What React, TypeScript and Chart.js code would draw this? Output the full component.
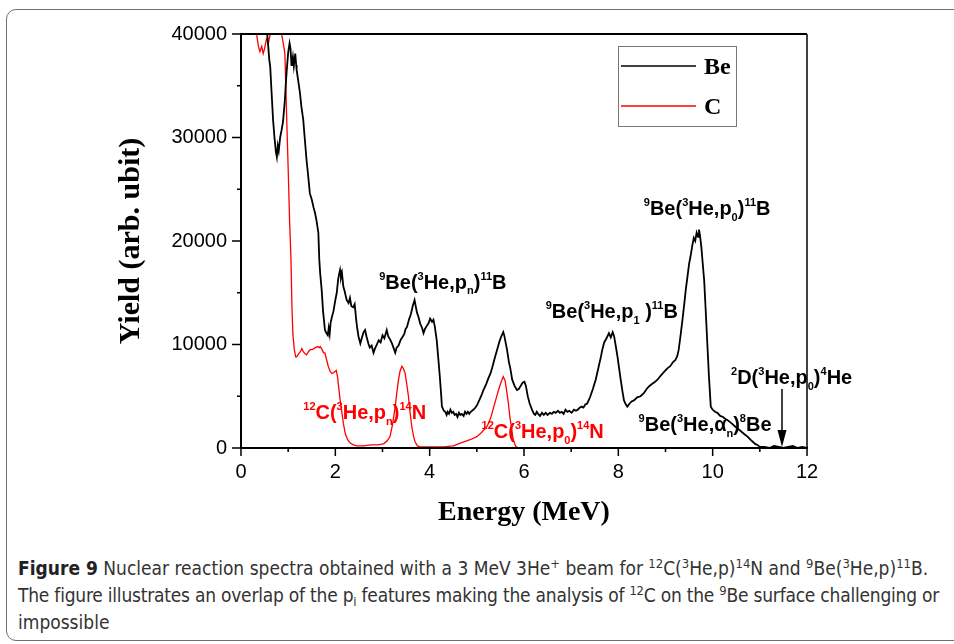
import React, { useEffect, useRef } from "react";
import { Chart, registerables } from "chart.js";
Chart.register(...registerables);

// ---------- data ----------
const seriesLabels = ["Be", "C"];

const beEnergy = [
  0.5, 0.56, 0.6, 0.62, 0.65, 0.68, 0.71, 0.74, 0.76, 0.78, 0.8, 0.83, 0.86, 0.89, 0.93, 0.95, 0.97, 1.0, 1.03, 1.05,
  1.07, 1.08, 1.1, 1.12, 1.15, 1.17, 1.18, 1.21, 1.25, 1.28, 1.32, 1.35, 1.39, 1.42, 1.46, 1.5, 1.54, 1.57, 1.6, 1.64,
  1.66, 1.68, 1.71, 1.74, 1.78, 1.81, 1.84, 1.86, 1.88, 1.9, 1.93, 1.96, 2.0, 2.03, 2.06, 2.08, 2.1, 2.12, 2.14, 2.17,
  2.2, 2.24, 2.28, 2.31, 2.34, 2.38, 2.41, 2.44, 2.46, 2.49, 2.53, 2.56, 2.6, 2.63, 2.66, 2.7, 2.73, 2.77, 2.81, 2.84,
  2.88, 2.92, 2.96, 3.0, 3.04, 3.09, 3.12, 3.16, 3.2, 3.24, 3.27, 3.3, 3.34, 3.38, 3.42, 3.46, 3.49, 3.52, 3.56, 3.6,
  3.64, 3.68, 3.7, 3.73, 3.76, 3.8, 3.84, 3.87, 3.9, 3.94, 3.98, 4.01, 4.05, 4.08, 4.11, 4.15, 4.18, 4.21, 4.24, 4.26,
  4.3, 4.33, 4.36, 4.38, 4.41, 4.44, 4.47, 4.5, 4.53, 4.56, 4.59, 4.62, 4.65, 4.68, 4.72, 4.75, 4.78, 4.81, 4.84, 4.87,
  4.9, 4.95, 5.0, 5.05, 5.1, 5.14, 5.2, 5.25, 5.29, 5.34, 5.38, 5.43, 5.48, 5.52, 5.56, 5.58, 5.61, 5.64, 5.68, 5.71,
  5.75, 5.8, 5.85, 5.89, 5.93, 5.97, 6.01, 6.04, 6.08, 6.12, 6.17, 6.21, 6.24, 6.27, 6.3, 6.34, 6.38, 6.42, 6.46, 6.5,
  6.55, 6.59, 6.63, 6.67, 6.72, 6.76, 6.8, 6.84, 6.88, 6.92, 6.96, 7.01, 7.06, 7.1, 7.14, 7.18, 7.22, 7.26, 7.3, 7.34,
  7.4, 7.46, 7.52, 7.58, 7.63, 7.66, 7.7, 7.75, 7.8, 7.84, 7.88, 7.91, 7.94, 7.98, 8.01, 8.05, 8.09, 8.12, 8.16, 8.19,
  8.24, 8.28, 8.33, 8.4, 8.47, 8.54, 8.6, 8.66, 8.72, 8.78, 8.83, 8.9, 8.96, 9.04, 9.1, 9.16, 9.21, 9.25, 9.28, 9.32,
  9.36, 9.4, 9.43, 9.47, 9.5, 9.53, 9.57, 9.6, 9.63, 9.66, 9.69, 9.71, 9.73, 9.76, 9.79, 9.82, 9.85, 9.89, 9.92, 9.96,
  10.0, 10.05, 10.1, 10.16, 10.22, 10.27, 10.31, 10.37, 10.42, 10.47, 10.52, 10.58, 10.63, 10.68, 10.74, 10.8, 10.85, 10.9, 10.95, 11.0,
  11.1, 11.2, 11.3, 11.4, 11.5, 11.6, 11.7, 11.8, 11.9, 12.0,
];
const beYield = [
  41000, 39800, 37500, 36800, 34200, 31700, 30000, 28600, 28100, 29200, 28700, 30000, 30700, 31500, 33600, 35200, 36500, 38200, 39100, 38600,
  37000, 37200, 37800, 36900, 38100, 37000, 36500, 35600, 34300, 33000, 31700, 30000, 27800, 26500, 24600, 24000, 23200, 22700, 22000, 20800,
  18200, 16800, 15300, 13200, 11400, 11100, 10900, 11600, 11000, 12100, 12700, 13200, 14300, 15000, 16300, 16800, 17200, 16500, 16900, 15600,
  15100, 14300, 14000, 14500, 13700, 13600, 13900, 12500, 11700, 10800, 10100, 10600, 11200, 11400, 10800, 10100, 9700, 9900, 9200, 9600,
  10000, 10400, 10200, 10900, 10600, 11400, 10800, 10500, 10100, 9600, 9200, 9700, 9900, 10400, 10700, 11000, 11500, 11700, 12400, 12900,
  13700, 14300, 13800, 13100, 12700, 12000, 11600, 11100, 11500, 11800, 12100, 12500, 12200, 12400, 11700, 10400, 8800, 7200, 5400, 4000,
  3600, 3500, 3200, 3500, 3300, 3700, 3400, 3500, 3200, 3300, 3000, 3400, 3200, 3300, 3100, 3500, 3300, 3500, 3300, 3500,
  3600, 3800, 4100, 4600, 5100, 5600, 6200, 6800, 7200, 8000, 8700, 9500, 10300, 10800, 11200, 10900, 10200, 9500, 8300, 7700,
  6600, 6000, 5600, 5700, 6000, 6300, 6400, 6000, 5000, 4300, 3700, 3300, 3200, 3500, 3300, 3100, 3400, 3200, 3400, 3200,
  3400, 3300, 3500, 3400, 3600, 3400, 3500, 3300, 3700, 3500, 3600, 3400, 3700, 3600, 3700, 3900, 4000, 3900, 4200, 4300,
  4900, 5700, 6600, 7800, 8800, 9500, 10200, 10600, 11100, 10700, 11200, 10800, 10000, 8900, 7900, 6600, 5400, 4600, 4200, 4000,
  4300, 4500, 4600, 4900, 5000, 5300, 5700, 6000, 6200, 6400, 6600, 7000, 7300, 7700, 7900, 8300, 8500, 8900, 9500, 10900,
  12400, 14000, 15300, 16700, 17800, 18500, 19600, 20300, 20000, 20800, 20400, 21100, 20600, 19400, 17800, 16200, 13500, 9800, 7000, 4000,
  3700, 3500, 3400, 3100, 3000, 2800, 2700, 2500, 2300, 2100, 1900, 1700, 1500, 1300, 1100, 800, 600, 400, 300, 100,
  100, 0, 200, 100, 0, 100, 200, 0, 100, 0,
];

const cEnergy = [
  0.3, 0.33, 0.37, 0.4, 0.44, 0.47, 0.5, 0.54, 0.58, 0.62, 0.65, 0.8, 0.86, 0.9, 0.93, 0.95, 0.97, 1.0, 1.03, 1.06,
  1.08, 1.1, 1.13, 1.16, 1.18, 1.22, 1.26, 1.29, 1.32, 1.36, 1.39, 1.43, 1.47, 1.51, 1.54, 1.58, 1.62, 1.66, 1.68, 1.72,
  1.75, 1.78, 1.81, 1.85, 1.89, 1.93, 1.97, 2.02, 2.05, 2.07, 2.1, 2.14, 2.17, 2.21, 2.26, 2.31, 2.38, 2.46, 2.6, 2.75,
  2.9, 3.02, 3.1, 3.16, 3.21, 3.27, 3.3, 3.34, 3.37, 3.41, 3.44, 3.48, 3.51, 3.55, 3.58, 3.62, 3.66, 3.69, 3.74, 3.8,
  4.0, 4.3, 4.5, 4.72, 4.86, 5.0, 5.1, 5.22, 5.3, 5.36, 5.41, 5.46, 5.51, 5.56, 5.6, 5.63, 5.67, 5.7, 5.74, 5.77,
  5.82, 5.87, 6.5, 8.0, 10.0, 12.0,
];
const cYield = [
  41000, 40000, 38800, 38300, 38800, 38100, 38600, 39500, 39100, 40000, 41000, 41000, 40000, 39000, 38100, 35000, 31700, 27000, 22000, 18200,
  13600, 11000, 9500, 8800, 8800, 9100, 9300, 9600, 9300, 9100, 9000, 9300, 9500, 9500, 9600, 9700, 9800, 9700, 9800, 9500,
  9200, 9200, 8600, 7900, 7400, 7200, 7300, 7500, 6800, 5900, 4700, 3400, 2400, 1400, 800, 500, 300, 200, 200, 300,
  300, 400, 700, 1100, 2200, 4000, 5200, 6600, 7400, 7900, 7700, 7200, 6300, 5000, 3600, 2100, 1100, 600, 200, 100,
  100, 100, 200, 600, 800, 1100, 1500, 2100, 3000, 4000, 4800, 5600, 6300, 6900, 6500, 5600, 4300, 3000, 1800, 800,
  200, 0, 0, 0, 0, 0,
];

const xTickValues = [0, 2, 4, 6, 8, 10, 12];
const yTickValues = [0, 10000, 20000, 30000, 40000];
const xTitle = "Energy (MeV)";
const yTitle = "Yield (arb. ubit)";

type Part = [string, ("sup" | "sub")?];
// annotation anchors in data coordinates (energy, yield) – left/baseline of text
const annotations: { e: number; y: number; color: string; parts: Part[] }[] = [
  { e: 2.93, y: 15400, color: "#000", parts: [["9", "sup"], ["Be("], ["3", "sup"], ["He,p"], ["n", "sub"], [")"], ["11", "sup"], ["B"]] },
  { e: 8.54, y: 22500, color: "#000", parts: [["9", "sup"], ["Be("], ["3", "sup"], ["He,p"], ["0", "sub"], [")"], ["11", "sup"], ["B"]] },
  { e: 6.46, y: 12550, color: "#000", parts: [["9", "sup"], ["Be("], ["3", "sup"], ["He,p"], ["1", "sub"], [" )"], ["11", "sup"], ["B"]] },
  { e: 10.39, y: 6150, color: "#000", parts: [["2", "sup"], ["D("], ["3", "sup"], ["He,p"], ["0", "sub"], [")"], ["4", "sup"], ["He"]] },
  { e: 8.43, y: 1650, color: "#000", parts: [["9", "sup"], ["Be("], ["3", "sup"], ["He,α"], ["n", "sub"], [")"], ["8", "sup"], ["Be"]] },
  { e: 1.32, y: 2800, color: "#ff0000", parts: [["12", "sup"], ["C("], ["3", "sup"], ["He,p"], ["n", "sub"], [")"], ["14", "sup"], ["N"]] },
  { e: 5.1, y: 970, color: "#ff0000", parts: [["12", "sup"], ["C("], ["3", "sup"], ["He,p"], ["0", "sub"], [")"], ["14", "sup"], ["N"]] },
];
const arrowE = 11.47;
const arrowFrom = 5700;
const arrowTo = 0;

const SANS = '"Liberation Sans", Arial, sans-serif';
const SERIF = '"Liberation Serif", "Times New Roman", serif';

function drawRich(ctx: CanvasRenderingContext2D, parts: Part[], x: number, y: number, size: number, color: string) {
  let cx = x;
  ctx.fillStyle = color;
  ctx.textAlign = "left";
  ctx.textBaseline = "alphabetic";
  for (const [t, k] of parts) {
    const fs = k ? Math.round(size * 0.55) : size;
    ctx.font = `bold ${fs}px ${SANS}`;
    const dy = k === "sup" ? -size * 0.45 : k === "sub" ? size * 0.28 : 0;
    ctx.fillText(t, cx, y + dy);
    cx += ctx.measureText(t).width;
  }
}

const decorPlugin = {
  id: "decor",
  afterDraw(chart: any) {
    const { ctx, chartArea: a, scales } = chart;
    const xs = scales.x;
    const ys = scales.y;
    ctx.save();
    // frame
    ctx.strokeStyle = "#000";
    ctx.lineWidth = 2;
    ctx.beginPath();
    ctx.moveTo(a.left, a.top);
    ctx.lineTo(a.right, a.top);
    ctx.moveTo(a.left, a.top - 1);
    ctx.lineTo(a.left, a.bottom + 1);
    ctx.moveTo(a.left - 1, a.bottom);
    ctx.lineTo(a.right + 1, a.bottom);
    ctx.stroke();
    ctx.lineWidth = 1.5;
    ctx.beginPath();
    ctx.moveTo(a.right, a.top);
    ctx.lineTo(a.right, a.bottom);
    ctx.stroke();
    // ticks
    ctx.lineWidth = 1.5;
    ctx.beginPath();
    for (let v = 0; v <= 12; v += 1) {
      const px = xs.getPixelForValue(v);
      const len = v % 2 === 0 ? 8 : 4;
      ctx.moveTo(px, a.bottom);
      ctx.lineTo(px, a.bottom + len);
    }
    for (let v = 0; v <= 40000; v += 5000) {
      const py = ys.getPixelForValue(v);
      const len = v % 10000 === 0 ? 9 : 4;
      ctx.moveTo(a.left, py);
      ctx.lineTo(a.left - len, py);
    }
    ctx.stroke();

    // axis titles
    ctx.fillStyle = "#000";
    ctx.textAlign = "center";
    ctx.textBaseline = "middle";
    ctx.font = `bold 28px ${SERIF}`;
    ctx.fillText(xTitle, (a.left + a.right) / 2, a.bottom + 65);
    ctx.save();
    ctx.translate(a.left - 110, (a.top + a.bottom) / 2);
    ctx.rotate(-Math.PI / 2);
    ctx.font = `bold 30px ${SERIF}`;
    ctx.fillText(yTitle, 0, 0);
    ctx.restore();

    // annotations
    for (const an of annotations) {
      drawRich(ctx, an.parts, xs.getPixelForValue(an.e), ys.getPixelForValue(an.y), 20, an.color);
    }
    // arrow
    const ax = xs.getPixelForValue(arrowE);
    const ay1 = ys.getPixelForValue(arrowFrom);
    const ay2 = ys.getPixelForValue(arrowTo) - 1;
    ctx.strokeStyle = "#000";
    ctx.lineWidth = 1.5;
    ctx.beginPath();
    ctx.moveTo(ax, ay1);
    ctx.lineTo(ax, ay2 - 12);
    ctx.stroke();
    ctx.fillStyle = "#000";
    ctx.beginPath();
    ctx.moveTo(ax - 4.5, ay2 - 17);
    ctx.lineTo(ax + 4.5, ay2 - 17);
    ctx.lineTo(ax, ay2);
    ctx.closePath();
    ctx.fill();

    // legend
    const lx = a.left + 377;
    const ly = a.top + 12;
    ctx.fillStyle = "#fff";
    ctx.fillRect(lx, ly, 118, 80);
    ctx.strokeStyle = "#777";
    ctx.lineWidth = 1;
    ctx.strokeRect(lx + 0.5, ly + 0.5, 118, 80);
    chart.data.datasets.forEach((ds: any, i: number) => {
      const yy = ly + 20 + i * 40;
      ctx.strokeStyle = ds.borderColor;
      ctx.lineWidth = 1.3;
      ctx.beginPath();
      ctx.moveTo(lx + 3, yy);
      ctx.lineTo(lx + 78, yy);
      ctx.stroke();
      ctx.fillStyle = "#000";
      ctx.font = `bold 24px ${SERIF}`;
      ctx.textAlign = "left";
      ctx.textBaseline = "middle";
      ctx.fillText(ds.label, lx + 86, yy + 2);
    });
    ctx.restore();
  },
};

function ChartView() {
  const ref = useRef<HTMLCanvasElement | null>(null);
  useEffect(() => {
    if (!ref.current) return;
    const chart = new Chart(ref.current, {
      type: "line",
      data: {
        datasets: [
          {
            label: seriesLabels[0],
            data: beEnergy.map((e, i) => ({ x: e, y: beYield[i] })),
            borderColor: "#000000",
            borderWidth: 1.8,
            pointRadius: 0,
            tension: 0,
          },
          {
            label: seriesLabels[1],
            data: cEnergy.map((e, i) => ({ x: e, y: cYield[i] })),
            borderColor: "#ff0000",
            borderWidth: 1.3,
            pointRadius: 0,
            tension: 0,
          },
        ],
      },
      options: {
        animation: false,
        responsive: false,
        devicePixelRatio: 1,
        layout: { padding: { left: 0, top: 34, right: 147, bottom: 0 } },
        plugins: { legend: { display: false }, tooltip: { enabled: false }, title: { display: false } },
        scales: {
          x: {
            type: "linear",
            min: 0,
            max: 12,
            grid: { display: false },
            border: { display: false },
            afterFit: (s: any) => {
              s.height = 92;
            },
            afterBuildTicks: (s: any) => {
              s.ticks = xTickValues.map((v) => ({ value: v }));
            },
            ticks: {
              autoSkip: false,
              maxRotation: 0,
              padding: 4,
              color: "#000",
              font: { family: SANS, size: 20 },
              callback: (v: any) => String(v),
            },
          },
          y: {
            type: "linear",
            min: 0,
            max: 40000,
            grid: { display: false },
            border: { display: false },
            afterFit: (s: any) => {
              s.width = 241;
            },
            afterBuildTicks: (s: any) => {
              s.ticks = yTickValues.map((v) => ({ value: v }));
            },
            ticks: {
              autoSkip: false,
              padding: 6,
              color: "#000",
              font: { family: SANS, size: 20 },
              callback: (v: any) => String(v),
            },
          },
        },
      },
      plugins: [decorPlugin],
    } as any);
    return () => chart.destroy();
  }, []);
  return (
    <canvas
      ref={ref}
      width={954}
      height={540}
      style={{ position: "absolute", left: 0, top: 0, width: 954, height: 540 }}
    />
  );
}

const supStyle: React.CSSProperties = { fontSize: "0.68em", position: "relative", top: "-0.55em", lineHeight: 0 };
const subStyle: React.CSSProperties = { fontSize: "0.68em", position: "relative", top: "0.3em", lineHeight: 0 };

export default function App() {
  return (
    <div style={{ position: "absolute", left: 0, top: 0, width: 954, height: 644, overflow: "hidden", background: "#fff" }}>
      <div
        style={{
          position: "absolute",
          left: 6,
          top: 9,
          width: 1000,
          height: 632,
          border: "1.5px solid #707070",
          borderRadius: 10,
          boxSizing: "border-box",
        }}
      />
      <ChartView />
      <div
        style={{
          position: "absolute",
          left: 18,
          top: 555,
          width: 934,
          fontFamily: '"Liberation Sans Narrow", "DejaVu Sans Condensed", "Liberation Sans", sans-serif',
          fontSize: 19,
          lineHeight: "27px",
          color: "#333",
          whiteSpace: "nowrap",
        }}
      >
        <div>
          <span style={{ fontWeight: "bold", color: "#222" }}>Figure 9</span>
          {"  Nuclear reaction spectra obtained with a 3 MeV 3He"}
          <span style={supStyle}>+</span>
          {" beam for "}
          <span style={supStyle}>12</span>
          {"C("}
          <span style={supStyle}>3</span>
          {"He,p)"}
          <span style={supStyle}>14</span>
          {"N and "}
          <span style={supStyle}>9</span>
          {"Be("}
          <span style={supStyle}>3</span>
          {"He,p)"}
          <span style={supStyle}>11</span>
          {"B."}
        </div>
        <div style={{ letterSpacing: "-0.22px" }}>
          {"The figure illustrates an overlap of the p"}
          <span style={subStyle}>i</span>
          {" features making the analysis of "}
          <span style={supStyle}>12</span>
          {"C on the "}
          <span style={supStyle}>9</span>
          {"Be surface challenging or"}
        </div>
        <div>{"impossible"}</div>
      </div>
    </div>
  );
}
